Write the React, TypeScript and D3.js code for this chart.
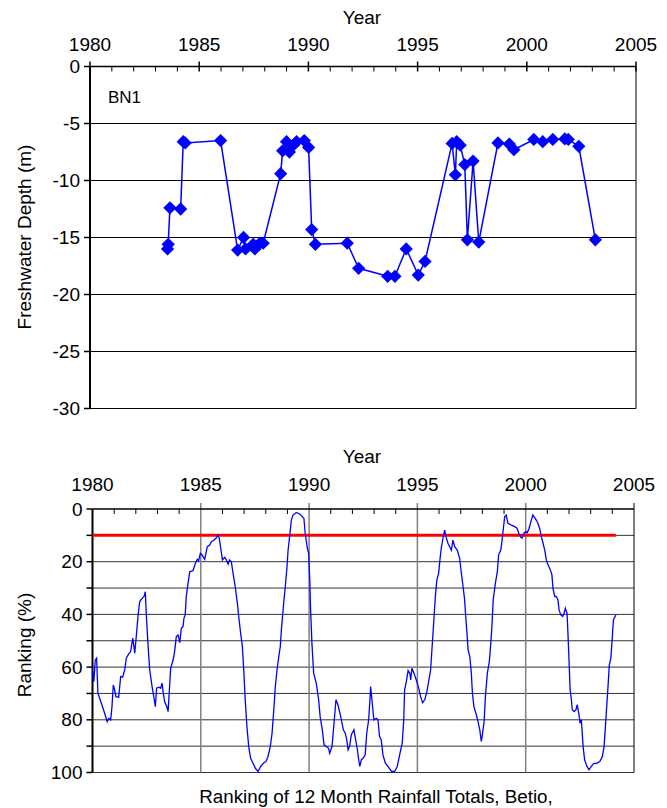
import * as d3 from "d3";

// Freshwater lens depth at BN1 (m)
const depthDates = [
  1983.55, 1983.58, 1983.66, 1984.15, 1984.27, 1984.36, 1985.98, 1986.76, 1987.03, 1987.12,
  1987.47, 1987.55, 1987.78, 1987.93, 1988.73, 1988.82, 1989.0, 1989.13, 1989.31, 1989.46,
  1989.81, 1990.01, 1990.15, 1990.32, 1991.78, 1992.3, 1993.63, 1993.96, 1994.48, 1995.03,
  1995.34, 1996.58, 1996.73, 1996.79, 1996.95, 1997.16, 1997.28, 1997.54, 1997.8, 1998.68,
  1999.2, 1999.41, 2000.32, 2000.73, 2001.19, 2001.74, 2001.9, 2002.38, 2003.14,
];
const depthValues = [
  -16.0, -15.6, -12.4, -12.5, -6.6, -6.7, -6.5, -16.1, -15.0, -16.0,
  -15.6, -16.0, -15.5, -15.5, -9.4, -7.4, -6.6, -7.5, -6.9, -6.6,
  -6.5, -7.1, -14.3, -15.6, -15.5, -17.7, -18.4, -18.4, -16.0, -18.3,
  -17.1, -6.75, -9.5, -6.6, -6.9, -8.6, -15.2, -8.3, -15.4, -6.7,
  -6.8, -7.3, -6.4, -6.6, -6.4, -6.35, -6.4, -7.0, -15.2,
];

// Ranking of 12 month rainfall totals, Betio (%)
const rankDates = [
  1980.0, 1980.03, 1980.06, 1980.13, 1980.19, 1980.25, 1980.41, 1980.56, 1980.68, 1980.76,
  1980.84, 1980.9, 1980.96, 1981.02, 1981.08, 1981.21, 1981.3, 1981.39, 1981.49, 1981.56,
  1981.67, 1981.76, 1981.86, 1981.95, 1982.02, 1982.1, 1982.18, 1982.29, 1982.38, 1982.44,
  1982.48, 1982.56, 1982.64, 1982.75, 1982.84, 1982.9, 1982.96, 1983.06, 1983.15, 1983.21,
  1983.27, 1983.33, 1983.43, 1983.49, 1983.55, 1983.61, 1983.72, 1983.79, 1983.87, 1983.95,
  1984.03, 1984.1, 1984.18, 1984.22, 1984.28, 1984.33, 1984.41, 1984.49, 1984.64, 1984.75,
  1984.84, 1984.9, 1984.98, 1985.06, 1985.18, 1985.3, 1985.41, 1985.49, 1985.61, 1985.7,
  1985.79, 1985.85, 1985.92, 1986.0, 1986.1, 1986.18, 1986.26, 1986.33, 1986.41, 1986.49,
  1986.59, 1986.69, 1986.75, 1986.84, 1986.92, 1986.99, 1987.05, 1987.13, 1987.21, 1987.3,
  1987.41, 1987.52, 1987.64, 1987.77, 1987.89, 1988.01, 1988.1, 1988.21, 1988.29, 1988.38,
  1988.44, 1988.52, 1988.6, 1988.67, 1988.72, 1988.78, 1988.84, 1988.9, 1988.98, 1989.03,
  1989.1, 1989.18, 1989.26, 1989.41, 1989.57, 1989.76, 1989.82, 1989.92, 1989.98, 1990.03,
  1990.07, 1990.13, 1990.21, 1990.33, 1990.44, 1990.51, 1990.61, 1990.69, 1990.79, 1990.9,
  1990.95, 1991.06, 1991.15, 1991.24, 1991.33, 1991.46, 1991.58, 1991.67, 1991.74, 1991.8,
  1991.87, 1991.95, 1992.07, 1992.15, 1992.22, 1992.28, 1992.34, 1992.41, 1992.49, 1992.59,
  1992.66, 1992.75, 1992.81, 1992.84, 1992.9, 1992.99, 1993.1, 1993.18, 1993.25, 1993.33,
  1993.41, 1993.52, 1993.64, 1993.8, 1993.95, 1994.07, 1994.18, 1994.3, 1994.37, 1994.41,
  1994.49, 1994.57, 1994.65, 1994.69, 1994.75, 1994.84, 1994.95, 1995.06, 1995.15, 1995.24,
  1995.34, 1995.44, 1995.53, 1995.61, 1995.67, 1995.73, 1995.8, 1995.84, 1995.9, 1995.98,
  1996.04, 1996.1, 1996.18, 1996.26, 1996.32, 1996.41, 1996.49, 1996.57, 1996.64, 1996.72,
  1996.84, 1996.95, 1997.03, 1997.11, 1997.18, 1997.23, 1997.29, 1997.34, 1997.42, 1997.49,
  1997.54, 1997.61, 1997.72, 1997.8, 1997.88, 1997.95, 1998.0, 1998.08, 1998.14, 1998.23,
  1998.32, 1998.39, 1998.44, 1998.5, 1998.6, 1998.69, 1998.75, 1998.85, 1998.91, 1998.97,
  1999.03, 1999.1, 1999.18, 1999.34, 1999.49, 1999.6, 1999.68, 1999.77, 1999.83, 1999.92,
  2000.01, 2000.07, 2000.16, 2000.24, 2000.33, 2000.38, 2000.49, 2000.57, 2000.65, 2000.72,
  2000.8, 2000.88, 2000.95, 2001.03, 2001.14, 2001.21, 2001.26, 2001.34, 2001.41, 2001.49,
  2001.54, 2001.62, 2001.71, 2001.77, 2001.83, 2001.91, 2001.95, 2002.0, 2002.05, 2002.11,
  2002.15, 2002.23, 2002.32, 2002.38, 2002.45, 2002.51, 2002.57, 2002.65, 2002.72, 2002.83,
  2002.92, 2003.03, 2003.15, 2003.28, 2003.42, 2003.54, 2003.62, 2003.68, 2003.74, 2003.8,
  2003.86, 2003.93, 2003.99, 2004.05, 2004.16,
];
const rankValues = [
  60.4, 63.6, 65.5, 57.3, 56.6, 69.9, 73.7, 77.5, 80.7, 79.4,
  80.0, 75.0, 66.8, 68.6, 71.2, 71.4, 63.6, 63.8, 61.0, 56.6,
  55.0, 54.1, 49.0, 54.7, 48.4, 40.8, 35.1, 33.9, 33.2, 31.4,
  39.6, 51.0, 61.0, 67.4, 71.8, 75.0, 68.0, 67.6, 68.0, 66.1,
  69.9, 73.1, 75.0, 76.9, 68.6, 60.4, 57.3, 54.1, 48.4, 47.8,
  50.7, 45.3, 44.6, 41.5, 40.2, 33.2, 28.2, 23.8, 23.4, 20.6,
  19.1, 19.6, 16.8, 17.4, 19.1, 14.3, 13.7, 12.4, 11.8, 11.1,
  9.9, 11.1, 14.9, 19.3, 18.3, 19.3, 20.9, 19.3, 20.0, 24.4,
  29.5, 35.8, 40.8, 47.2, 52.2, 62.3, 72.4, 82.6, 90.1, 94.6,
  96.5, 98.4, 99.6, 97.7, 96.5, 95.8, 94.0, 90.1, 85.1, 75.0,
  67.4, 61.0, 56.0, 52.2, 45.9, 40.2, 34.5, 29.5, 21.9, 15.6,
  10.5, 4.2, 2.3, 1.3, 1.9, 3.5, 9.2, 14.9, 16.8, 26.9,
  38.3, 50.9, 62.3, 66.1, 72.4, 78.8, 83.8, 89.5, 90.1, 90.8,
  92.7, 90.1, 81.3, 72.4, 74.3, 78.8, 83.8, 85.1, 87.6, 91.4,
  90.1, 85.7, 83.8, 87.6, 90.8, 94.6, 97.7, 95.2, 94.6, 93.3,
  85.1, 80.0, 72.4, 67.4, 72.4, 80.0, 79.4, 80.0, 86.3, 87.6,
  93.3, 96.5, 97.7, 99.6, 99.6, 97.7, 93.3, 88.9, 80.0, 68.6,
  65.5, 61.3, 62.3, 64.9, 60.4, 62.3, 64.9, 68.0, 71.2, 73.5,
  72.4, 69.3, 64.9, 61.0, 53.5, 45.9, 37.0, 32.0, 26.9, 24.4,
  19.3, 14.9, 11.1, 8.0, 10.5, 13.0, 14.3, 15.6, 11.8, 14.3,
  15.6, 18.7, 24.4, 29.5, 34.5, 40.8, 47.2, 53.5, 56.0, 62.3,
  69.9, 75.0, 78.1, 80.7, 83.8, 88.2, 85.7, 80.7, 71.2, 62.3,
  57.9, 50.9, 44.6, 34.5, 28.2, 23.8, 17.4, 15.6, 11.8, 7.3,
  2.9, 2.3, 5.4, 6.1, 6.7, 7.3, 9.2, 10.7, 11.1, 9.2,
  8.6, 9.0, 7.3, 4.8, 2.3, 2.9, 4.2, 5.5, 7.6, 10.5,
  13.0, 15.6, 19.3, 21.2, 23.1, 25.0, 30.1, 33.2, 33.2, 34.5,
  38.3, 40.2, 40.8, 39.6, 37.7, 39.6, 47.2, 57.3, 68.6, 72.4,
  76.2, 76.9, 76.2, 74.3, 77.5, 81.3, 80.0, 90.1, 95.2, 97.7,
  99.0, 97.7, 96.5, 96.5, 95.8, 93.9, 90.1, 82.6, 75.0, 67.4,
  59.2, 56.6, 49.7, 42.1, 40.2,
];

const yearTicks = [1980, 1985, 1990, 1995, 2000, 2005];
const depthTicks = [0, -5, -10, -15, -20, -25, -30];
const rankTicks = [0, 20, 40, 60, 80, 100];
const rankThreshold = 10;

const font = "'Liberation Sans', Arial, sans-serif";

function DepthChart() {
  const x = d3.scaleLinear().domain([1980, 2005]).range([90, 636]);
  const y = d3.scaleLinear().domain([0, -30]).range([66.5, 408.5]);
  const [x0, x1] = x.range();
  const [y0, y1] = y.range();
  const years = d3.range(1980, 2006);
  const pts = depthDates.map((d, i) => [x(d), y(depthValues[i])] as [number, number]);
  const line = d3.line()(pts) || "";
  const diamond = d3.symbol().type(d3.symbolSquare).size(88)() || "";

  return (
    <g>
      {depthTicks.slice(1).map(t => (
        <line key={t} x1={x0} x2={x1} y1={y(t)} y2={y(t)} stroke="#000" strokeWidth={1} />
      ))}
      <line x1={x0} x2={x1} y1={y0} y2={y0} stroke="#000" strokeWidth={1.5} />
      <line x1={x1} x2={x1} y1={y0} y2={y1} stroke="#000" strokeWidth={1} />
      <line x1={x0} x2={x0} y1={y0} y2={y1} stroke="#000" strokeWidth={2} />
      {depthTicks.map(t => (
        <g key={t}>
          <line x1={x0 - 6} x2={x0} y1={y(t)} y2={y(t)} stroke="#000" strokeWidth={1.5} />
          <text x={x0 - 10} y={y(t)} dy="0.35em" textAnchor="end" fontSize={19}>{t}</text>
        </g>
      ))}
      {years.map(yr => (
        <line key={yr} x1={x(yr)} x2={x(yr)} y1={yr % 5 === 0 ? y0 - 5 : y0} y2={y0 + 5}
          stroke="#000" strokeWidth={yr % 5 === 0 ? 1.5 : 1} />
      ))}
      {yearTicks.map(t => (
        <text key={t} x={x(t)} y={51} textAnchor="middle" fontSize={19}>{t}</text>
      ))}
      <text x={362} y={24} textAnchor="middle" fontSize={19}>Year</text>
      <text x={108} y={103} fontSize={17}>BN1</text>
      <text transform="translate(31,237) rotate(-90)" textAnchor="middle" fontSize={19}>Freshwater Depth (m)</text>
      <path d={line} fill="none" stroke="#0000ff" strokeWidth={1.5} />
      {pts.map((p, i) => (
        <path key={i} d={diamond} transform={`translate(${p[0]},${p[1]}) rotate(45)`} fill="#0000ff" />
      ))}
    </g>
  );
}

function RankChart() {
  const x = d3.scaleLinear().domain([1980, 2005]).range([92.5, 634]);
  const y = d3.scaleLinear().domain([0, 100]).range([509, 772.5]);
  const [x0, x1] = x.range();
  const [y0, y1] = y.range();
  const years = d3.range(1980, 2006);
  const grid = d3.range(10, 101, 10);
  const line = d3.line<number>().x((d) => x(d)).y((_, i) => y(rankValues[i]))(rankDates) || "";
  const lastYear = rankDates[rankDates.length - 1];

  return (
    <g>
      {grid.map(t => (
        <line key={t} x1={x0} x2={x1} y1={y(t)} y2={y(t)} stroke="#333" strokeWidth={1} />
      ))}
      {yearTicks.slice(1, -1).map(t => (
        <line key={t} x1={x(t)} x2={x(t)} y1={y0 - 6} y2={y1} stroke="#808080" strokeWidth={1.5} />
      ))}
      {years.filter(yr => yr % 5 !== 0).map(yr => (
        <line key={yr} x1={x(yr)} x2={x(yr)} y1={y0} y2={y0 + 5} stroke="#000" strokeWidth={1} />
      ))}
      <line x1={x0} x2={x1} y1={y0} y2={y0} stroke="#000" strokeWidth={1.5} />
      <line x1={x1} x2={x1} y1={y0 - 6} y2={y1} stroke="#000" strokeWidth={1} />
      <line x1={x0} x2={x0} y1={y0} y2={y1} stroke="#000" strokeWidth={2} />
      {d3.range(0, 101, 10).map(t => (
        <line key={t} x1={x0 - 6} x2={x0} y1={y(t)} y2={y(t)} stroke="#000" strokeWidth={1.5} />
      ))}
      {rankTicks.map(t => (
        <text key={t} x={x0 - 10} y={y(t)} dy="0.35em" textAnchor="end" fontSize={19}>{t}</text>
      ))}
      {yearTicks.map(t => (
        <text key={t} x={x(t)} y={491} textAnchor="middle" fontSize={19}>{t}</text>
      ))}
      <text x={362} y={463} textAnchor="middle" fontSize={19}>Year</text>
      <text transform="translate(31,645) rotate(-90)" textAnchor="middle" fontSize={19}>Ranking (%)</text>
      <line x1={x0} x2={x(lastYear)} y1={y(rankThreshold)} y2={y(rankThreshold)} stroke="#ff0000" strokeWidth={3} />
      <path d={line} fill="none" stroke="#0000ff" strokeWidth={1.3} />
      <text x={376} y={803} textAnchor="middle" fontSize={18.8}>Ranking of 12 Month Rainfall Totals, Betio,</text>
    </g>
  );
}

export default function App() {
  return (
    <svg width={667} height={808} viewBox="0 0 667 808"
      style={{ position: "absolute", left: 0, top: 0, background: "#fff", fontFamily: font }}>
      <rect width={667} height={808} fill="#fff" />
      <DepthChart />
      <RankChart />
    </svg>
  );
}
